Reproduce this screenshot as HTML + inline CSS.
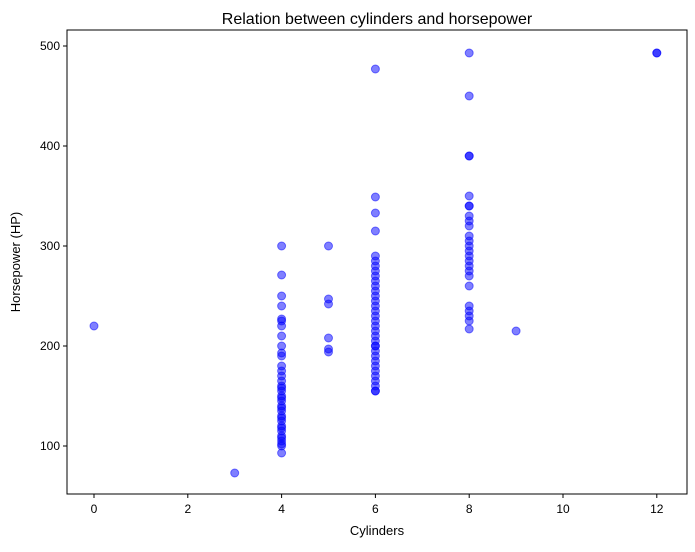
<!DOCTYPE html>
<html><head><meta charset="utf-8"><style>
body{margin:0;background:#fff;font-family:"Liberation Sans",sans-serif}
svg text{font-family:"Liberation Sans",sans-serif;fill:#000}
</style></head><body>
<svg id="c" width="695" height="547">
<text x="377" y="24" font-size="16" text-anchor="middle">Relation between cylinders and horsepower</text>
<rect x="67" y="30" width="620" height="464" fill="none" stroke="#000" stroke-width="1"/>
<g id="pts"></g>
<g id="ax"></g>
<text x="377" y="535" font-size="13" text-anchor="middle">Cylinders</text>
<text transform="translate(20,262) rotate(-90)" font-size="13" text-anchor="middle">Horsepower (HP)</text>
</svg>
<script>
const cylinders=[0,3,9,12,12,
4,4,4,4,4,4,4,4,4,4,4,4,4,4,4,4,4,4,4,4,4,4,4,4,4,4,4,4,4,4,4,4,4,4,4,4,
5,5,5,5,5,5,
6,6,6,6,6,6,6,6,6,6,6,6,6,6,6,6,6,6,6,6,6,6,6,6,6,6,6,6,6,6,6,6,6,6,
8,8,8,8,8,8,8,8,8,8,8,8,8,8,8,8,8,8,8,8,8,8,8,8,8];
const horsepower=[220,73,215,493,493,
93,100,105,110,115,120,125,130,135,140,145,150,155,160,165,170,175,180,190,193,200,210,220,225,227,240,250,271,300,102,108,118,128,138,148,158,
194,197,208,242,247,300,
155,165,170,175,180,185,190,195,200,205,210,215,220,225,230,235,240,245,250,255,260,265,270,275,280,285,290,315,333,349,477,160,200,155,
217,225,230,235,240,260,270,275,280,285,290,295,300,305,310,320,325,330,340,350,390,450,493,390,340];
const xTicks=[0,2,4,6,8,10,12];
const yTicks=[100,200,300,400,500];
const X=v=>94+v*46.9, Y=v=>446-(v-100);
const ns="http://www.w3.org/2000/svg";
const pts=document.getElementById('pts'), ax=document.getElementById('ax');
cylinders.forEach((c,i)=>{const e=document.createElementNS(ns,'circle');
e.setAttribute('cx',X(c));e.setAttribute('cy',Y(horsepower[i]));e.setAttribute('r',4);
e.setAttribute('fill','rgba(0,0,255,0.5)');
e.setAttribute('stroke','rgba(0,0,255,0.5)');
e.setAttribute('stroke-width','1');


pts.appendChild(e);});
xTicks.forEach(t=>{const l=document.createElementNS(ns,'line');
l.setAttribute('x1',X(t));l.setAttribute('x2',X(t));l.setAttribute('y1',494);l.setAttribute('y2',498);l.setAttribute('stroke','#000');


ax.appendChild(l);
const s=document.createElementNS(ns,'text');s.setAttribute('x',X(t));s.setAttribute('y',513);s.setAttribute('font-size','12');s.setAttribute('text-anchor','middle');s.textContent=t;


ax.appendChild(s);});
yTicks.forEach(t=>{const l=document.createElementNS(ns,'line');
l.setAttribute('x1',63);l.setAttribute('x2',67);l.setAttribute('y1',Y(t));l.setAttribute('y2',Y(t));l.setAttribute('stroke','#000');


ax.appendChild(l);
const s=document.createElementNS(ns,'text');s.setAttribute('x',60);s.setAttribute('y',Y(t)+4);s.setAttribute('font-size','12');s.setAttribute('text-anchor','end');s.textContent=t;


ax.appendChild(s);});
</script>
</body></html>
